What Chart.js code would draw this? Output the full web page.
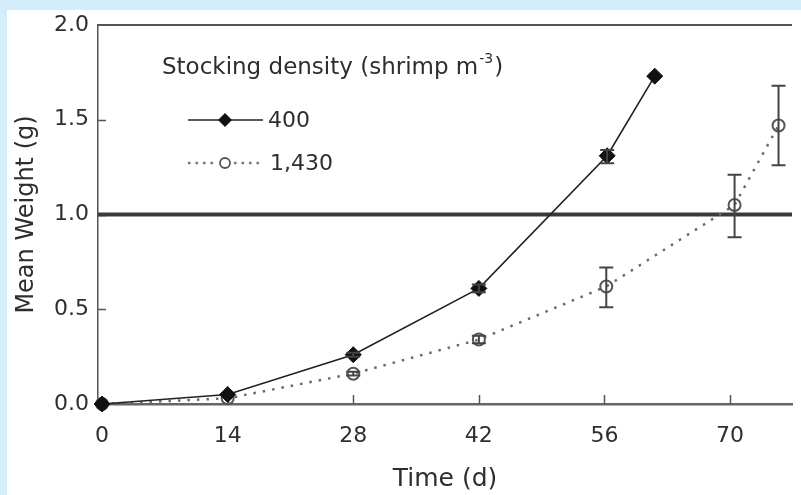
<!DOCTYPE html>
<html>
<head>
<meta charset="utf-8">
<script src="https://cdn.jsdelivr.net/npm/chart.js@4/dist/chart.umd.min.js"></script>
<style>
  html, body { margin: 0; padding: 0; background: rgb(211, 238, 250); }
  #panel { position: absolute; left: 7px; top: 10px; width: 794px; height: 485px; background: #ffffff; }
  canvas { display: block; }
</style>
</head>
<body>
<div id="panel"><canvas id="c" width="794" height="485"></canvas></div>
<script>
// ---- Data ----
const days400    = [0, 14, 28, 42, 56.3, 61.6];
const weight400  = [0, 0.05, 0.26, 0.61, 1.31, 1.73];
const low400     = [0, 0.05, 0.25, 0.59, 1.27, 1.73];
const high400    = [0, 0.05, 0.27, 0.63, 1.34, 1.73];

const days1430   = [0, 14, 28, 42, 56.2, 70.5, 75.4];
const weight1430 = [0, 0.03, 0.16, 0.34, 0.62, 1.05, 1.47];
const low1430    = [0, 0.03, 0.15, 0.32, 0.51, 0.88, 1.26];
const high1430   = [0, 0.03, 0.17, 0.36, 0.72, 1.21, 1.68];

const xTicks = [0, 14, 28, 42, 56, 70];
const yTicks = [0, 0.5, 1.0, 1.5, 2.0];
const xRange = [-0.45, 76.9];
const yRange = [0, 2.0];
const referenceWeight = 1.0;

const seriesNames = ['400', '1,430'];
const legendTitle = 'Stocking density (shrimp m';
const legendTitleSup = '-3';
const xTitle = 'Time (d)';
const yTitle = 'Mean Weight (g)';

// ---- Styles ----
const FONT = "'DejaVu Sans', sans-serif";
const TXT = '#2e2e2e';

function pts(xs, ys) { return xs.map((x, i) => ({ x: x, y: ys[i] })); }

const helpers = {
  id: 'figureExtras',
  beforeDatasetsDraw(chart) {
    const { ctx, chartArea: a, scales: { x, y } } = chart;
    ctx.save();
    // top frame line
    ctx.strokeStyle = '#555';
    ctx.lineWidth = 2;
    ctx.beginPath();
    ctx.moveTo(a.left, a.top);
    ctx.lineTo(a.right, a.top);
    ctx.stroke();
    // inward ticks
    ctx.lineWidth = 1.5;
    ctx.strokeStyle = '#555';
    y.ticks.forEach(t => {
      if (t.value <= yRange[0] || t.value >= yRange[1]) return;
      const py = Math.round(y.getPixelForValue(t.value)) + 0.5;
      ctx.beginPath();
      ctx.moveTo(a.left, py);
      ctx.lineTo(a.left + 8, py);
      ctx.stroke();
    });
    x.ticks.forEach(t => {
      if (t.value <= 0) return;
      const px = Math.round(x.getPixelForValue(t.value)) + 0.5;
      ctx.beginPath();
      ctx.moveTo(px, a.bottom);
      ctx.lineTo(px, a.bottom - 9);
      ctx.stroke();
    });
    // reference line at 1.0
    const ry = y.getPixelForValue(referenceWeight);
    ctx.strokeStyle = '#3a3a3a';
    ctx.lineWidth = 4;
    ctx.beginPath();
    ctx.moveTo(a.left, ry);
    ctx.lineTo(a.right, ry);
    ctx.stroke();
    ctx.restore();
  },
  afterDatasetsDraw(chart) {
    const { ctx, scales: { x, y } } = chart;
    ctx.save();
    ctx.strokeStyle = '#444';
    ctx.lineWidth = 2;
    const bars = (xs, lo, hi) => {
      xs.forEach((d, i) => {
        if (hi[i] - lo[i] < 0.015) return;
        const px = x.getPixelForValue(d);
        const y1 = y.getPixelForValue(lo[i]);
        const y2 = y.getPixelForValue(hi[i]);
        ctx.beginPath();
        ctx.moveTo(px, y1); ctx.lineTo(px, y2);
        ctx.moveTo(px - 7, y1); ctx.lineTo(px + 7, y1);
        ctx.moveTo(px - 7, y2); ctx.lineTo(px + 7, y2);
        ctx.stroke();
      });
    };
    bars(days400, low400, high400);
    bars(days1430, low1430, high1430);
    ctx.restore();
  },
  afterDraw(chart) {
    const { ctx } = chart;
    ctx.save();
    ctx.fillStyle = TXT;
    ctx.textBaseline = 'middle';
    ctx.textAlign = 'left';
    // legend title with superscript
    ctx.font = '23px ' + FONT;
    let tx = 155, ty = 58;
    ctx.fillText(legendTitle, tx, ty);
    tx += ctx.measureText(legendTitle).width;
    ctx.font = '14px ' + FONT;
    ctx.fillText(legendTitleSup, tx + 1, ty - 9);
    tx += ctx.measureText(legendTitleSup).width + 2;
    ctx.font = '23px ' + FONT;
    ctx.fillText(')', tx, ty);

    // item 1: solid line + filled diamond
    const y1 = 110, y2 = 153;
    ctx.strokeStyle = '#222';
    ctx.lineWidth = 1.6;
    ctx.beginPath(); ctx.moveTo(181, y1); ctx.lineTo(256, y1); ctx.stroke();
    ctx.fillStyle = '#111';
    ctx.beginPath();
    ctx.moveTo(218, y1 - 7); ctx.lineTo(225, y1); ctx.lineTo(218, y1 + 7); ctx.lineTo(211, y1);
    ctx.closePath(); ctx.fill();
    ctx.fillStyle = TXT;
    ctx.font = '22px ' + FONT;
    ctx.fillText(seriesNames[0], 261, y1 + 1);

    // item 2: dotted line + open circle
    ctx.strokeStyle = '#777';
    ctx.lineWidth = 2.5;
    ctx.setLineDash([2.5, 5]);
    ctx.beginPath(); ctx.moveTo(181, y2); ctx.lineTo(210, y2); ctx.stroke();
    ctx.beginPath(); ctx.moveTo(227, y2); ctx.lineTo(256, y2); ctx.stroke();
    ctx.setLineDash([]);
    ctx.strokeStyle = '#555';
    ctx.lineWidth = 1.8;
    ctx.beginPath(); ctx.arc(218, y2, 5, 0, Math.PI * 2); ctx.stroke();
    ctx.fillStyle = TXT;
    ctx.fillText(seriesNames[1], 263, y2 + 1);
    ctx.restore();
  }
};

new Chart(document.getElementById('c'), {
  type: 'line',
  data: {
    datasets: [
      {
        label: seriesNames[0],
        data: pts(days400, weight400),
        borderColor: '#222',
        borderWidth: 1.6,
        pointStyle: 'rectRot',
        pointRadius: 8,
        pointBackgroundColor: '#111',
        pointBorderColor: '#111',
        pointBorderWidth: 1,
        tension: 0,
        clip: false
      },
      {
        label: seriesNames[1],
        data: pts(days1430, weight1430),
        borderColor: '#6a6a6a',
        borderWidth: 2.5,
        borderDash: [2.5, 7],
        pointStyle: 'circle',
        pointRadius: 6,
        pointBackgroundColor: 'rgba(255,255,255,0)',
        pointBorderColor: '#555',
        pointBorderWidth: 2,
        tension: 0,
        clip: false
      }
    ]
  },
  options: {
    responsive: false,
    animation: false,
    devicePixelRatio: 1,
    layout: { padding: { top: 15, left: 0, right: 0, bottom: 0 } },
    plugins: { legend: { display: false }, tooltip: { enabled: false } },
    scales: {
      x: {
        type: 'linear',
        min: xRange[0],
        max: xRange[1],
        afterBuildTicks: s => { s.ticks = xTicks.map(v => ({ value: v })); },
        afterFit: s => { s.height = 91; s.paddingLeft = 0; s.paddingRight = 0; },
        ticks: { font: { family: FONT, size: 22 }, color: TXT, padding: 19, maxRotation: 0, autoSkip: false,
                 callback: v => String(v) },
        grid: { display: false, drawTicks: false },
        border: { display: true, color: '#666', width: 2.5 },
        title: { display: true, text: xTitle, color: TXT, font: { family: FONT, size: 25 }, padding: { top: 1, bottom: 1 } }
      },
      y: {
        type: 'linear',
        min: yRange[0],
        max: yRange[1],
        afterBuildTicks: s => { s.ticks = yTicks.map(v => ({ value: v })); },
        afterFit: s => { s.width = 91; s.paddingTop = 0; s.paddingBottom = 0; },
        ticks: { font: { family: FONT, size: 22 }, color: TXT, padding: 9, callback: v => Number(v).toFixed(1) },
        grid: { display: false, drawTicks: false },
        border: { display: true, color: '#555', width: 1.5 },
        title: { display: true, text: yTitle, color: TXT, font: { family: FONT, size: 24 }, padding: { top: 5, bottom: 5 } }
      }
    }
  },
  plugins: [helpers]
});
</script>
</body>
</html>
